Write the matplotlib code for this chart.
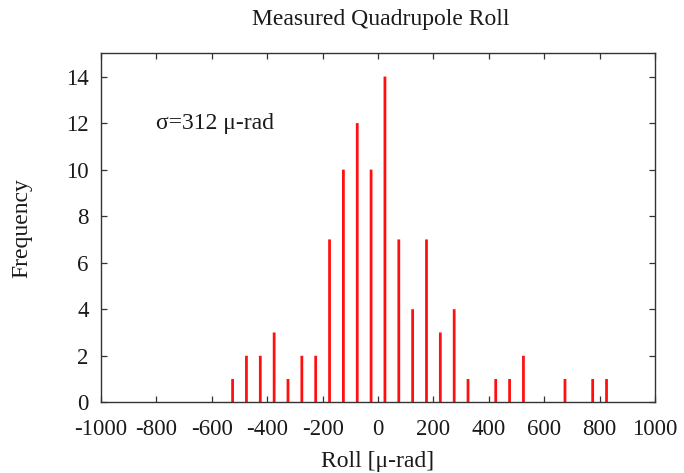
import matplotlib
matplotlib.use("Agg")
import matplotlib.pyplot as plt

# Histogram of measured quadrupole roll (bin centres in micro-radians)
bin_centers = [-525, -475, -425, -375, -325, -275, -225, -175, -125, -75, -25,
               25, 75, 125, 175, 225, 275, 325, 375, 425, 475, 525, 575, 625,
               675, 725, 775, 825]
counts = [1, 2, 2, 3, 1, 2, 2, 7, 10, 12, 10,
          14, 7, 4, 7, 3, 4, 1, 0, 1, 1, 2, 0, 0,
          1, 0, 1, 1]
x_ticks = [-1000, -800, -600, -400, -200, 0, 200, 400, 600, 800, 1000]
y_ticks = [0, 2, 4, 6, 8, 10, 12, 14]
sigma_label = "σ=312 μ-rad"

plt.rcParams['font.family'] = ['Liberation Serif', 'DejaVu Serif']

fig = plt.figure(figsize=(6.84, 4.73), dpi=100)
ax = fig.add_axes([0.1477, 0.1495, 0.9576 - 0.1477, 0.8873 - 0.1495])

xs = [c for c, n in zip(bin_centers, counts) if n > 0]
hs = [n for n in counts if n > 0]
bars = ax.bar(xs, hs, width=10, color='#ff1010', edgecolor='none')
for b in bars:
    b.set_snap(False)

ax.set_xlim(-1000, 1000)
ax.set_ylim(0, 15)
ax.set_xticks(x_ticks)
ax.set_xticklabels([str(t) for t in x_ticks])
ax.set_yticks(y_ticks)
ax.tick_params(direction='in', length=4, width=0.9, color='#333333',
               top=True, right=True, labelsize=16.5, labelcolor='#1a1a1a')
ax.tick_params(axis='x', pad=12)
ax.tick_params(axis='y', pad=9)
for s in ax.spines.values():
    s.set_color('#333333')
    s.set_linewidth(1.0)

fig.text(381 / 684, 1 - 19 / 473, "Measured Quadrupole Roll", fontsize=17,
         ha='center', va='center', color='#1a1a1a')
ax.set_xlabel("Roll [μ-rad]", fontsize=17, color='#1a1a1a', va='center')
ax.xaxis.set_label_coords(0.5, -0.171)
ax.set_ylabel("Frequency", fontsize=17, color='#1a1a1a', va='center', ha='center')
ax.yaxis.set_label_coords(-0.1426, 0.5)
ax.text(-800, 12, sigma_label, fontsize=17, ha='left', va='center', color='#1a1a1a')

fig.savefig("out.png", dpi=100)
